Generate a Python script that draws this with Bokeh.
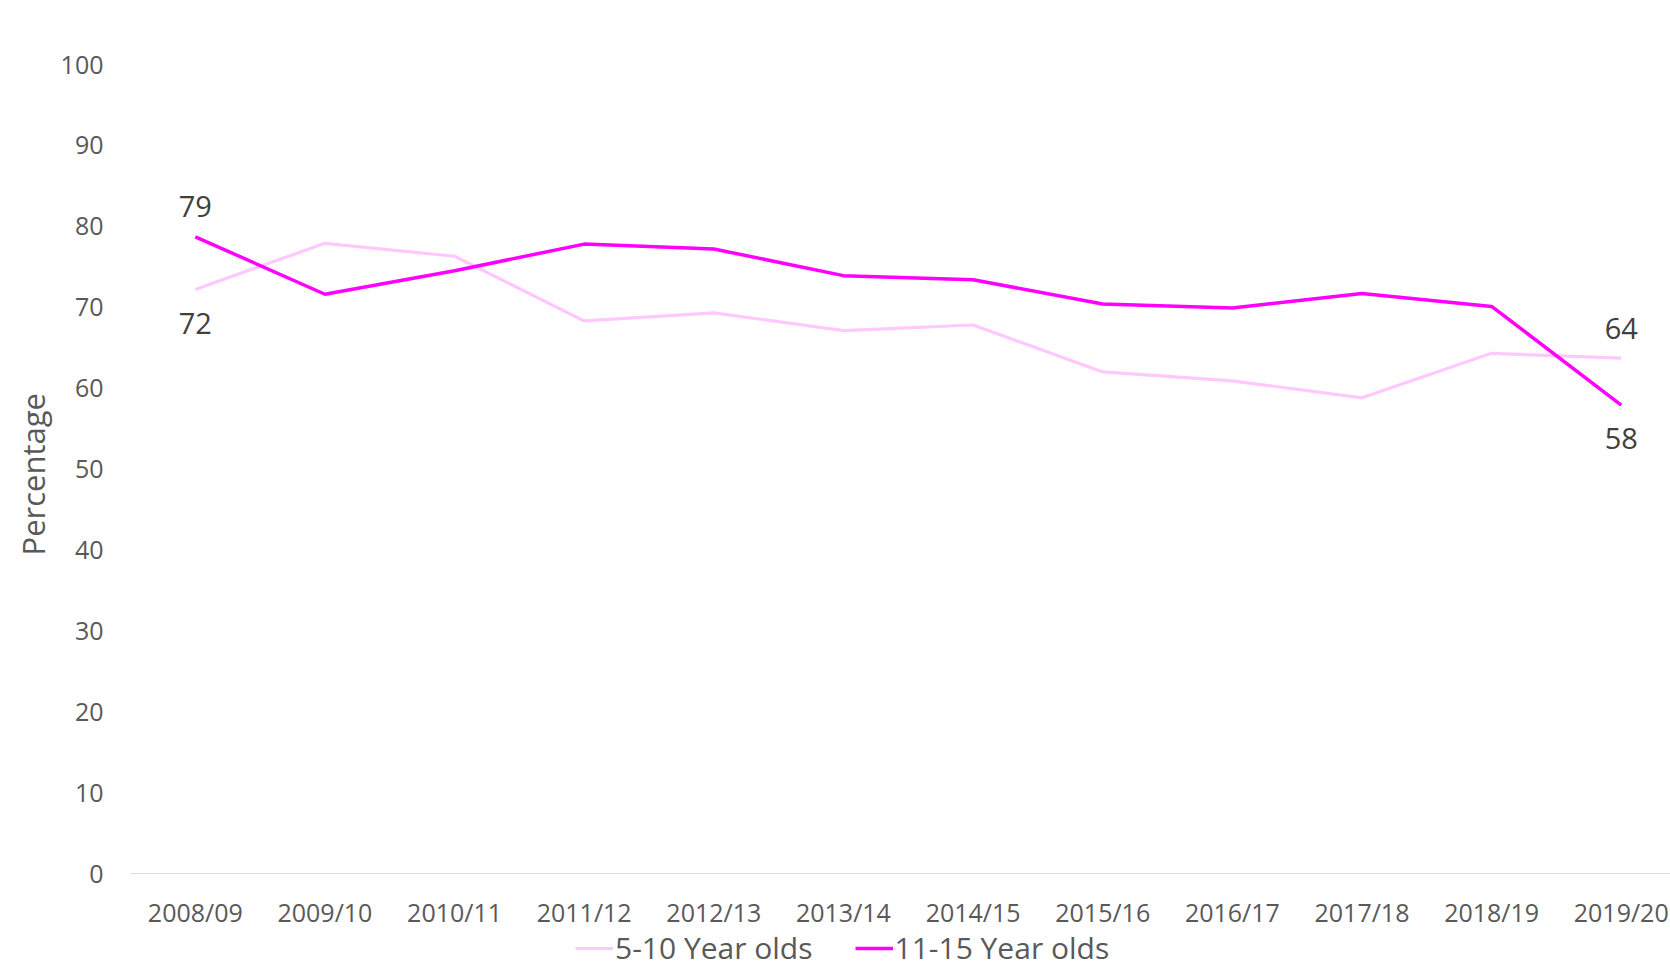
from bokeh.plotting import figure
from bokeh.models import Range1d, FixedTicker, Legend, LegendItem, ColumnDataSource, Title
from bokeh.core.properties import value
from bokeh.embed import file_html
from bokeh.resources import INLINE

years = ["2008/09", "2009/10", "2010/11", "2011/12", "2012/13", "2013/14",
         "2014/15", "2015/16", "2016/17", "2017/18", "2018/19", "2019/20"]
age_5_10 = [72.2, 77.9, 76.3, 68.3, 69.3, 67.1, 67.8, 62.0, 60.9, 58.8, 64.3, 63.7]
age_11_15 = [78.7, 71.6, 74.5, 77.8, 77.2, 73.9, 73.4, 70.4, 69.9, 71.7, 70.1, 57.9]
y_ticks = [0, 10, 20, 30, 40, 50, 60, 70, 80, 90, 100]

FONT = "Open Sans"
x = list(range(len(years)))

p = figure(width=1670, height=970, output_backend="svg", toolbar_location=None,
           x_range=Range1d(-0.5, 11.38), y_range=Range1d(-11.99, 100),
           min_border_left=130, min_border_right=0, min_border_top=64,
           min_border_bottom=0, outline_line_color=None)
p.background_fill_color = "white"
p.border_fill_color = "white"
p.grid.visible = False

# x axis drawn at y = 0
p.xaxis.fixed_location = 0
p.xaxis.ticker = FixedTicker(ticks=x)
p.xaxis.major_label_overrides = {i: y for i, y in enumerate(years)}
p.xaxis.axis_line_color = "#D9D9D9"
p.xaxis.axis_line_width = 1
p.xaxis.major_tick_line_color = None
p.xaxis.minor_tick_line_color = None
p.xaxis.major_tick_out = 0
p.xaxis.major_label_standoff = 21
p.xaxis.major_label_text_font = FONT
p.xaxis.major_label_text_font_size = "25px"
p.xaxis.major_label_text_color = "#595959"

# y axis
p.yaxis.ticker = FixedTicker(ticks=y_ticks)
p.yaxis.axis_line_color = None
p.yaxis.major_tick_line_color = None
p.yaxis.minor_tick_line_color = None
p.yaxis.major_tick_out = 0
p.yaxis.major_label_standoff = 27
p.yaxis.major_label_text_font = FONT
p.yaxis.major_label_text_font_size = "25px"
p.yaxis.major_label_text_color = "#595959"

y_title = Title(text="Percentage", align="left", offset=415, standoff=8,
                text_font=FONT, text_font_size="31px", text_font_style="normal",
                text_color="#595959")
p.add_layout(y_title, "left")

r1 = p.line(x, age_5_10, line_color="#FFC8FF", line_width=3.2)
r2 = p.line(x, age_11_15, line_color="#FF00FF", line_width=3.5)

# end-point data labels
lab_x = [0, 0, 11, 11]
lab_y = [age_11_15[0], age_5_10[0], age_5_10[-1], age_11_15[-1]]
lab_t = [str(round(age_11_15[0])), str(round(age_5_10[0])),
         str(round(age_5_10[-1])), str(round(age_11_15[-1]))]
lab_off = [-30, 34, -30, 33]
src = ColumnDataSource(dict(x=lab_x, y=lab_y, t=lab_t, off=lab_off))
p.text(x="x", y="y", text="t", y_offset="off", source=src,
       text_font=value(FONT), text_font_size="29px", text_color="#404040",
       text_align="center", text_baseline="middle")

legend = Legend(items=[LegendItem(label="5-10 Year olds", renderers=[r1]),
                       LegendItem(label="11-15 Year olds", renderers=[r2])],
                orientation="horizontal", location=(445, 2),
                border_line_color=None, background_fill_alpha=0,
                padding=0, margin=0, spacing=42, glyph_width=38,
                glyph_height=20, label_standoff=2,
                label_text_font=FONT, label_text_font_size="30px",
                label_text_color="#595959")
p.add_layout(legend, "center")

open("out.html", "w").write(file_html(p, INLINE))
